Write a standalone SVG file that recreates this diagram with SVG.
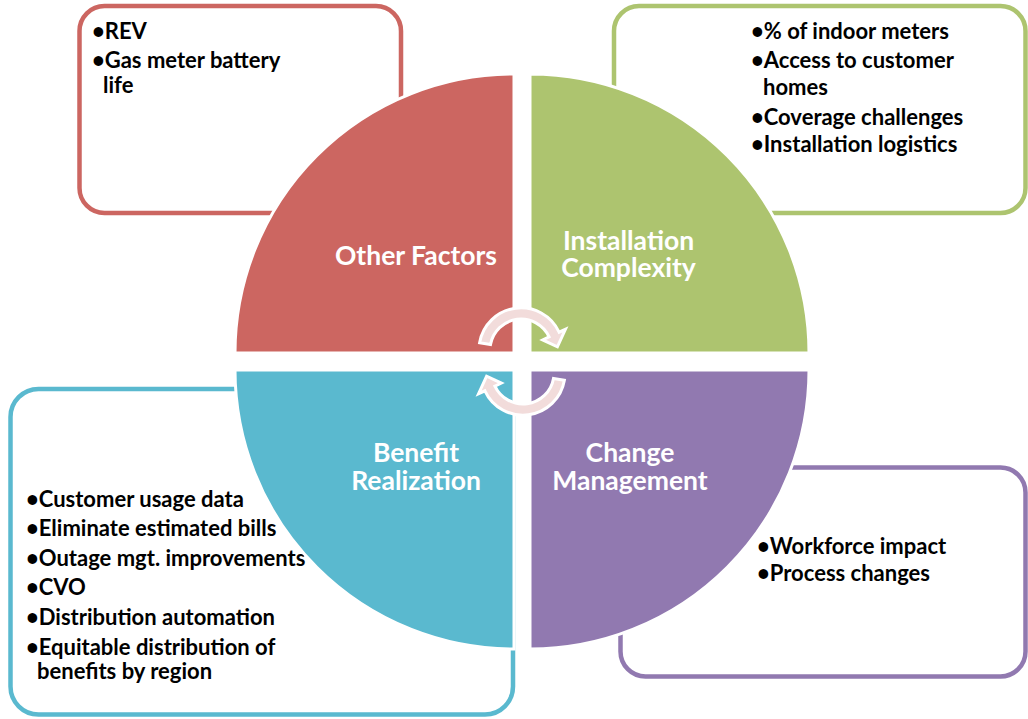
<svg xmlns="http://www.w3.org/2000/svg" width="1028" height="719" viewBox="0 0 1028 719">
<style>
.box{fill:#fff;stroke-width:4.5}
.q{stroke:#fff;stroke-width:3}
.bl{font-family:Lato,"Open Sans","Liberation Sans",sans-serif;font-weight:bold;font-size:22px;fill:#000}
.tt{font-family:Lato,"Open Sans","Liberation Sans",sans-serif;font-weight:bold;font-size:26.5px;fill:#fff;text-anchor:middle}
.arr{fill:#f2dcdb;stroke:#fff;stroke-width:3}
</style>
<rect width="1028" height="719" fill="#fff"/>
<g id="box-other">
<rect class="box" x="79.5" y="6" width="321.5" height="207" rx="25" stroke="#cc6661"/>
<text class="bl" x="92" y="39">•REV</text>
<text class="bl" x="92" y="68">•Gas meter battery</text>
<text class="bl" x="103" y="93">life</text>
</g>
<g id="box-install">
<rect class="box" x="614" y="6" width="411.5" height="207" rx="25" stroke="#adc46f"/>
<text class="bl" x="751" y="39">•% of indoor meters</text>
<text class="bl" x="751" y="68">•Access to customer</text>
<text class="bl" x="763" y="95">homes</text>
<text class="bl" x="751" y="125">•Coverage challenges</text>
<text class="bl" x="751" y="152">•Installation logistics</text>
</g>
<g id="box-benefit">
<rect class="box" x="10.5" y="389" width="502.5" height="325.5" rx="28" stroke="#5ab9cf"/>
<text class="bl" x="26" y="507">•Customer usage data</text>
<text class="bl" x="26" y="536">•Eliminate estimated bills</text>
<text class="bl" x="26" y="566">•Outage mgt. improvements</text>
<text class="bl" x="26" y="595">•CVO</text>
<text class="bl" x="26" y="625">•Distribution automation</text>
<text class="bl" x="26" y="655">•Equitable distribution of</text>
<text class="bl" x="37" y="679">benefits by region</text>
</g>
<g id="box-change">
<rect class="box" x="620.5" y="467.5" width="405" height="209" rx="25" stroke="#9179b0"/>
<text class="bl" x="757" y="554">•Workforce impact</text>
<text class="bl" x="757" y="581">•Process changes</text>
</g>
<g id="q-other">
<path class="q" d="M514,353 L235,353 A279,279 0 0 1 514,74 Z" fill="#cc6661"/>
<text class="tt" x="416" y="265">Other Factors</text>
</g>
<g id="q-install">
<path class="q" d="M530,353 L530,74 A279,279 0 0 1 809,353 Z" fill="#adc46f"/>
<text class="tt" x="628.5" y="250">Installation</text>
<text class="tt" x="628.5" y="277">Complexity</text>
</g>
<g id="q-benefit">
<path class="q" d="M514,370 L514,649 A279,279 0 0 1 235,370 Z" fill="#5ab9cf"/>
<text class="tt" x="416" y="462">Benefit</text>
<text class="tt" x="416" y="490">Realization</text>
</g>
<g id="q-change">
<path class="q" d="M530,370 L809,370 A279,279 0 0 1 530,649 Z" fill="#9179b0"/>
<text class="tt" x="630" y="462">Change</text>
<text class="tt" x="630" y="490">Management</text>
</g>
<g id="connectors">
<path class="arr" d="M479.6,342.7 A42,42 0 0 1 559.1,332.2 L565.4,329.3 L557.4,346.8 L542.7,339.9 L549.1,336.9 A31,31 0 0 0 490.5,344.6 Z"/>
<path class="arr" transform="rotate(180 522 361.5)" d="M479.6,342.7 A42,42 0 0 1 559.1,332.2 L565.4,329.3 L557.4,346.8 L542.7,339.9 L549.1,336.9 A31,31 0 0 0 490.5,344.6 Z"/>
</g>
</svg>
